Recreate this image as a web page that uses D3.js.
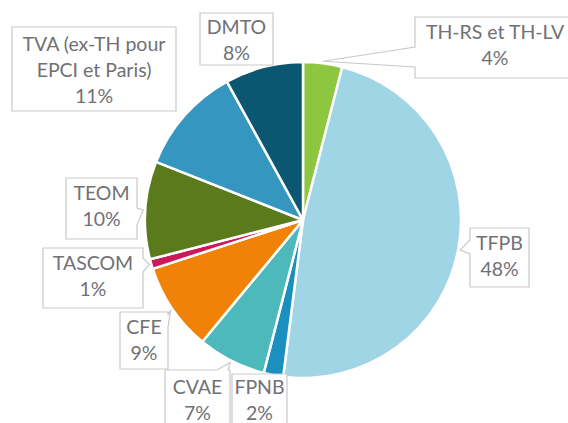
<!DOCTYPE html>
<html>
<head>
<meta charset="utf-8">
<script src="https://cdn.jsdelivr.net/npm/d3@7"></script>
<style>
	body { margin: 0; background: #fff; }
	text { font-family: Lato, "Noto Sans", sans-serif; fill: #707076; font-size: 19.5px; }
</style>
</head>
<body>
<svg id="pie"></svg>
<script>
// data, clockwise from the top
const names = ["TH-RS et TH-LV", "TFPB", "FPNB", "CVAE", "CFE", "TASCOM", "TEOM", "TVA (ex-TH pour EPCI et Paris)", "DMTO"];
const labelLines = [["TH-RS et TH-LV"], ["TFPB"], ["FPNB"], ["CVAE"], ["CFE"], ["TASCOM"], ["TEOM"], ["TVA (ex-TH pour", "EPCI et Paris)"], ["DMTO"]];
const shares = [4, 48, 2, 7, 9, 1, 10, 11, 8];
const colors = ["#8dc63f", "#a0d5e6", "#1b90bf", "#4db9bb", "#ef8207", "#cc195a", "#5b7a1c", "#3597bf", "#0b5670"];

// callout boxes: x, y, w, h, first text line offset, side of the pointer, notch start/end along that side
const boxes = [
	{ x: 415, y: 17, w: 160, h: 61, ty: 22, side: "left", n0: 30, n1: 50 },
	{ x: 470, y: 228, w: 59, h: 59, ty: 22, side: "left", n0: 12, n1: 26 },
	{ x: 232, y: 374, w: 55, h: 70, ty: 20, side: null },
	{ x: 165, y: 370, w: 65, h: 70, ty: 24, side: "top", n0: 52, n1: 63 },
	{ x: 120, y: 312, w: 48, h: 57, ty: 22, side: "right", n0: 3, n1: 15 },
	{ x: 43, y: 248, w: 100, h: 60, ty: 22, side: "right", n0: 10, n1: 24 },
	{ x: 66, y: 178, w: 71, h: 61, ty: 22, side: "right", n0: 30, n1: 47 },
	{ x: 12, y: 27, w: 164, h: 84, ty: 24, side: null },
	{ x: 200, y: 13, w: 73, h: 52, ty: 21, side: null },
];

const width = 568, height = 423;
const cx = 303, cy = 220, r = 158;

const svg = d3.select("#pie").attr("width", width).attr("height", height);

const pie = d3.pie().sort(null).value((d) => d)(shares);
const arc = d3.arc().innerRadius(0).outerRadius(r);
const tipArc = d3.arc().innerRadius(r + 2).outerRadius(r + 2); //where the pointers end

const g = svg.append("g").attr("transform", `translate(${cx},${cy})`);

g.selectAll(".slice")
	.data(pie)
	.enter()
	.append("path")
	.attr("class", "slice")
	.attr("d", arc)
	.attr("fill", (d, i) => colors[i])
	.attr("stroke", "#fff")
	.attr("stroke-width", 2.5)
	.attr("stroke-linejoin", "round");

// outline of a box, with a notch going to the tip on one side
function calloutPath(b, tip) {
	const x0 = b.x, y0 = b.y, x1 = b.x + b.w, y1 = b.y + b.h;
	const p = d3.path();
	p.moveTo(x0, y0);
	if (b.side == "top") {
		p.lineTo(x0 + b.n0, y0);
		p.lineTo(tip[0], tip[1]);
		p.lineTo(x0 + b.n1, y0);
	}
	p.lineTo(x1, y0);
	if (b.side == "right") {
		p.lineTo(x1, y0 + b.n0);
		p.lineTo(tip[0], tip[1]);
		p.lineTo(x1, y0 + b.n1);
	}
	p.lineTo(x1, y1);
	p.lineTo(x0, y1);
	if (b.side == "left") {
		p.lineTo(x0, y0 + b.n1);
		p.lineTo(tip[0], tip[1]);
		p.lineTo(x0, y0 + b.n0);
	}
	p.closePath();
	return p.toString();
}

const labels = svg
	.selectAll(".callout")
	.data(pie)
	.enter()
	.append("g")
	.attr("class", "callout");

labels
	.append("path")
	.attr("d", (d, i) => {
		const c = tipArc.centroid(d);
		return calloutPath(boxes[i], [c[0] + cx, c[1] + cy]);
	})
	.attr("fill", "#fff")
	.attr("stroke", "#c9c9c9")
	.attr("stroke-width", 1.2);

labels
	.append("text")
	.attr("text-anchor", "middle")
	.attr("x", (d, i) => boxes[i].x + boxes[i].w / 2)
	.attr("y", (d, i) => boxes[i].y + boxes[i].ty)
	.each(function (d, i) {
		const t = d3.select(this);
		const lines = labelLines[i].concat([shares[i] + "%"]); //name lines then the share
		lines.forEach((line, k) => {
			t.append("tspan")
				.attr("x", t.attr("x"))
				.attr("dy", k == 0 ? 0 : 26)
				.text(line);
		});
	});
</script>
</body>
</html>
